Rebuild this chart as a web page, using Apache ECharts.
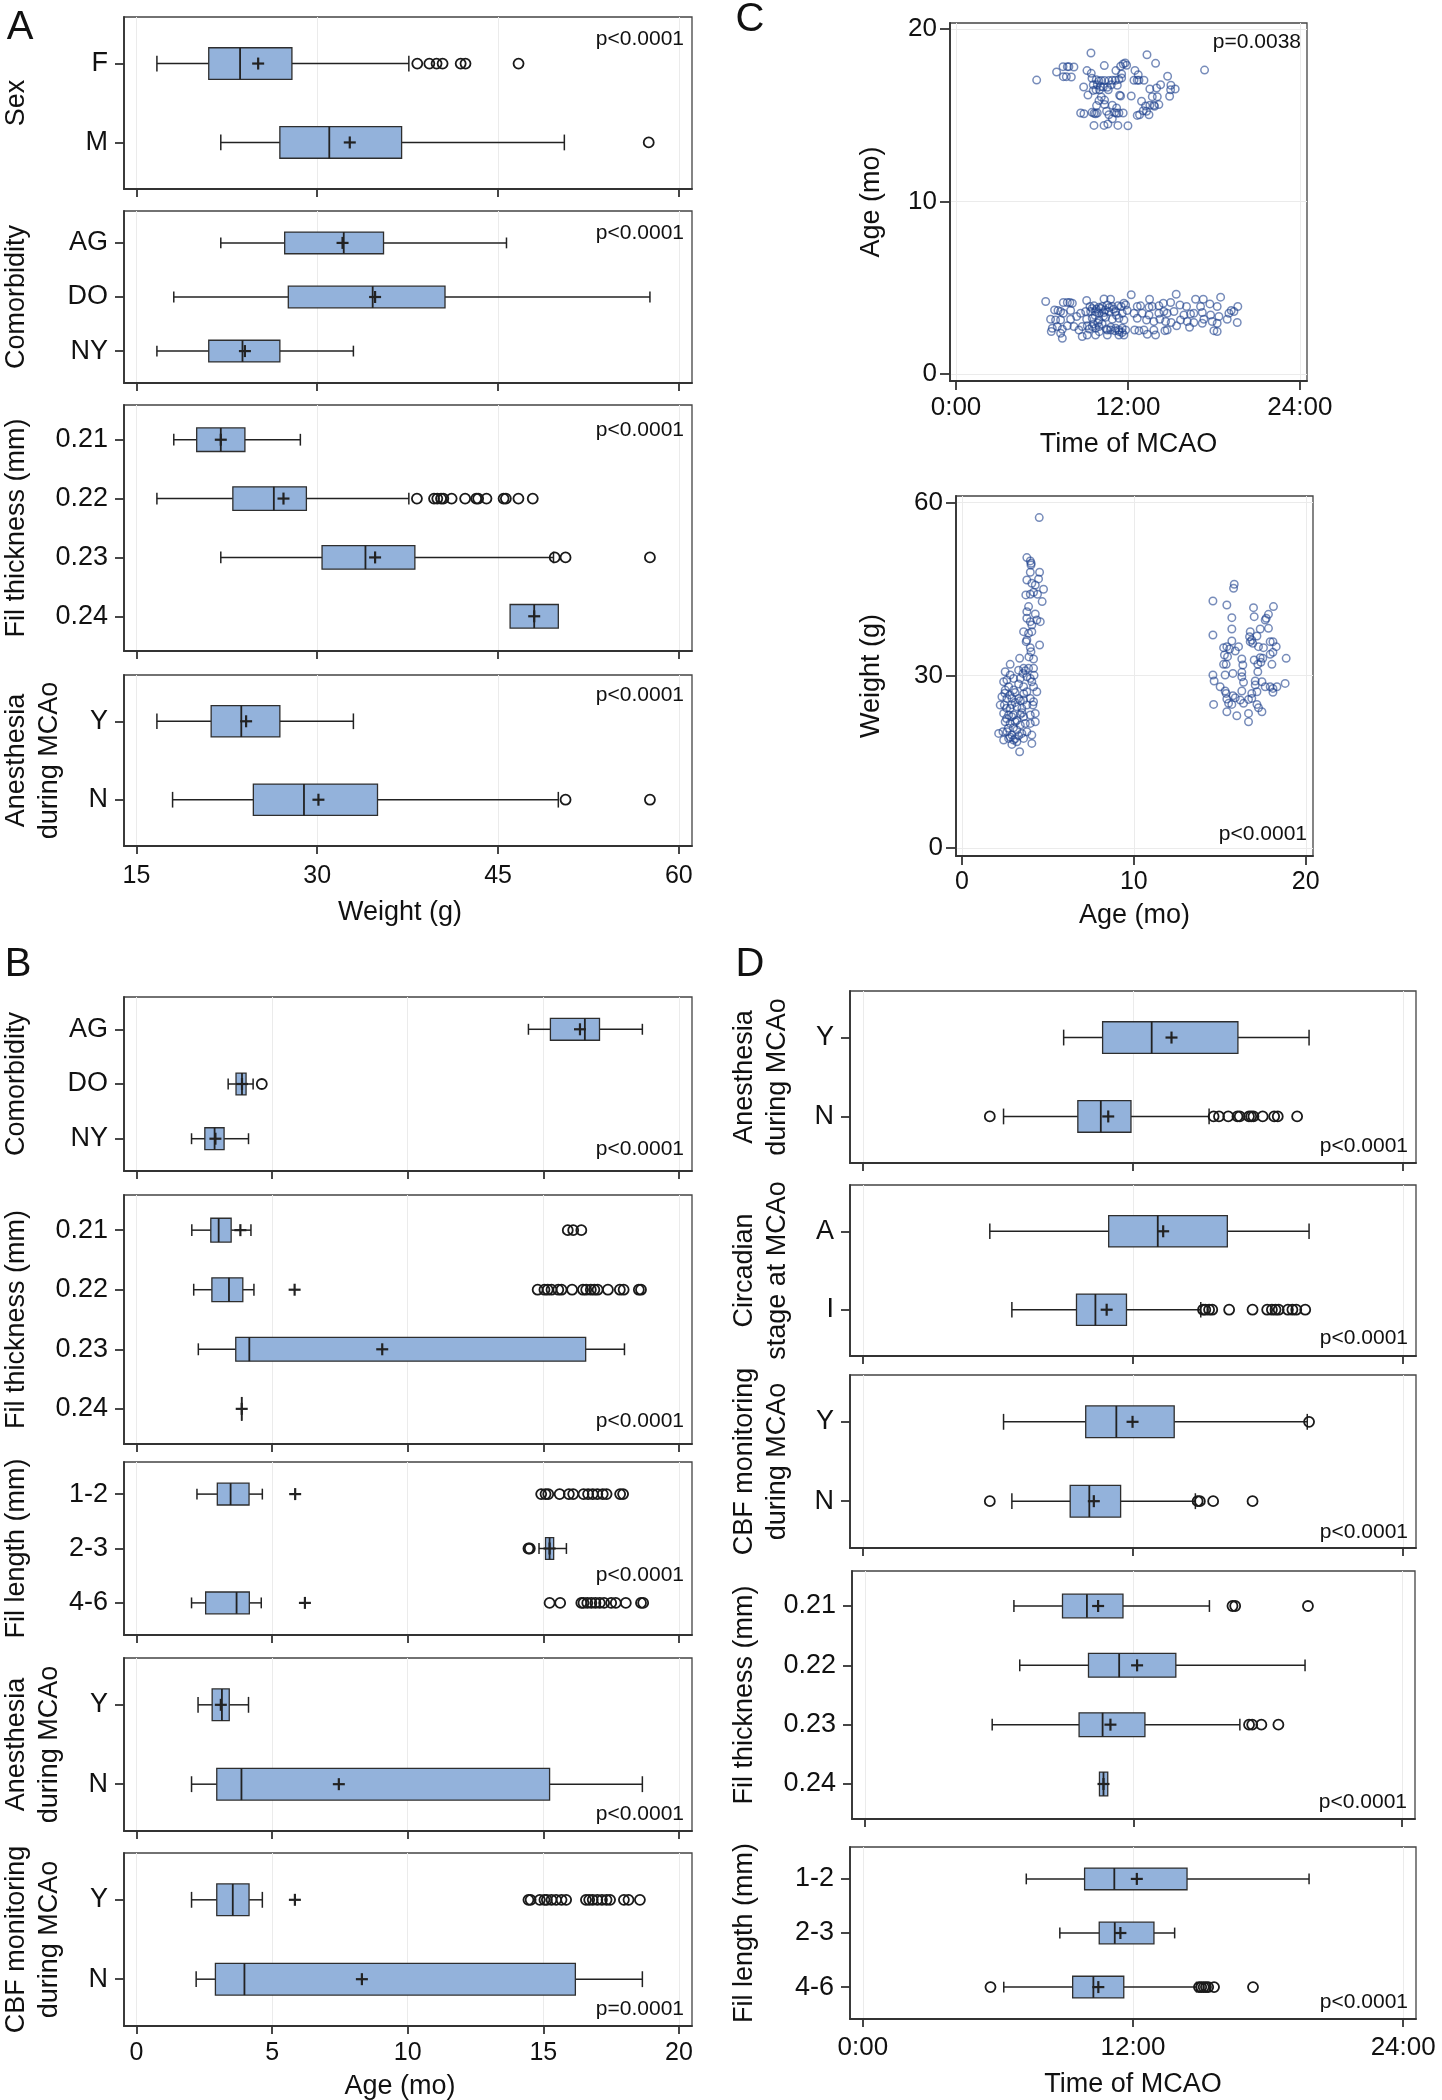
<!DOCTYPE html>
<html>
<head>
<meta charset="utf-8">
<script src="https://cdn.jsdelivr.net/npm/echarts@6/dist/echarts.min.js"></script>
<style>
  html, body { margin: 0; padding: 0; background: #fff; }
  #chart { width: 1442px; height: 2100px; }
</style>
</head>
<body>
<div id="chart"></div>
<script>
// ---- categories ----
const sexCats = ['F', 'M'];
const comorbCats = ['AG', 'DO', 'NY'];
const filThickCats = ['0.21', '0.22', '0.23', '0.24'];
const filLenCats = ['1-2', '2-3', '4-6'];
const ynCats = ['Y', 'N'];
const circCats = ['A', 'I'];

// ---- tick labels ----
const weightTicks = [15, 30, 45, 60];
const ageTicks = [0, 5, 10, 15, 20];
const timeTicks = [0, 12, 24];

// box rows: [low whisker, Q1, median, Q3, high whisker, mean]
// A: weight (g)
const weightBySex = [[16.7, 21.0, 23.6, 27.9, 37.6, 25.1], [22.0, 26.9, 31.0, 37.0, 50.5, 32.7]];
const weightBySexOut = [[38.3, 39.3, 39.9, 40.4, 41.9, 42.3, 46.7], [57.5]];
const weightByComorb = [[22.0, 27.3, 32.2, 35.5, 45.7, 32.1], [18.1, 27.6, 34.6, 40.6, 57.6, 34.8], [16.7, 21.0, 23.8, 26.9, 33.0, 24.0]];
const weightByComorbOut = [[], [], []];
const weightByThick = [[18.1, 20.0, 22.0, 24.0, 28.6, 22.0], [16.7, 23.0, 26.4, 29.1, 37.6, 27.2], [22.0, 30.4, 34.0, 38.1, 49.6, 34.8], [46.0, 46.0, 48.0, 50.0, 50.0, 48.0]];
const weightByThickOut = [[], [38.27, 39.69, 39.96, 40.27, 40.46, 41.15, 42.27, 43.19, 43.35, 44.04, 45.46, 45.65, 46.69, 47.88], [49.7, 50.6, 57.6], []];
const weightByAnest = [[16.7, 21.2, 23.7, 26.9, 33.0, 24.1], [18.0, 24.7, 28.9, 35.0, 50.0, 30.1]];
const weightByAnestOut = [[], [50.6, 57.6]];

// B: age (mo)
const ageByComorb = [[14.45, 15.26, 16.53, 17.07, 18.65, 16.35], [3.38, 3.67, 3.89, 4.04, 4.3, 3.89], [2.03, 2.52, 2.88, 3.23, 4.13, 2.91]];
const ageByComorbOut = [[], [4.62], []];
const ageByThick = [[2.04, 2.74, 3.03, 3.49, 4.22, 3.83], [2.11, 2.78, 3.41, 3.92, 4.33, 5.83], [2.28, 3.66, 4.16, 16.56, 17.99, 9.06], [3.88, 3.88, 3.88, 3.88, 3.88, 3.88]];
const ageByThickOut = [[15.9, 16.1, 16.4], [14.79, 15.04, 15.16, 15.30, 15.55, 15.67, 16.06, 16.46, 16.58, 16.75, 16.88, 17.0, 17.38, 17.82, 17.96, 18.52, 18.6], [], []];
const ageByLen = [[2.23, 2.98, 3.47, 4.15, 4.64, 5.85], [14.84, 15.08, 15.23, 15.38, 15.85, 15.23], [2.03, 2.55, 3.69, 4.16, 4.6, 6.21]];
const ageByLenOut = [[14.92, 15.08, 15.18, 15.6, 15.94, 16.1, 16.48, 16.65, 16.82, 16.99, 17.19, 17.33, 17.83, 17.94], [14.45, 14.5], [15.23, 15.62, 16.4, 16.48, 16.62, 16.77, 16.92, 17.08, 17.24, 17.5, 17.67, 18.04, 18.6, 18.68]];
const ageByAnest = [[2.27, 2.79, 3.15, 3.42, 4.13, 3.11], [2.03, 2.96, 3.87, 15.23, 18.65, 7.46]];
const ageByAnestOut = [[], []];
const ageByCbf = [[2.03, 2.96, 3.55, 4.15, 4.64, 5.84], [2.2, 2.91, 3.98, 16.18, 18.65, 8.31]];
const ageByCbfOut = [[14.45, 14.53, 14.87, 15.04, 15.13, 15.3, 15.47, 15.67, 15.84, 16.57, 16.69, 16.82, 16.99, 17.16, 17.33, 17.46, 17.97, 18.14, 18.56], []];

// D: time of MCAO (hours)
const timeByAnest = [[8.92, 10.65, 12.83, 16.66, 19.82, 13.71], [6.25, 9.55, 10.57, 11.91, 15.38, 10.9]];
const timeByAnestOut = [[], [5.64, 15.58, 15.82, 16.23, 16.64, 16.74, 17.15, 17.25, 17.35, 17.76, 18.27, 18.43, 19.29]];
const timeByCirc = [[5.64, 10.92, 13.1, 16.19, 19.82, 13.34], [6.62, 9.49, 10.33, 11.71, 15.01, 10.83]];
const timeByCircOut = [[], [15.11, 15.21, 15.38, 15.52, 16.27, 17.31, 17.96, 18.17, 18.33, 18.47, 18.88, 19.08, 19.25, 19.65]];
const timeByCbf = [[6.25, 9.9, 11.26, 13.83, 19.74, 11.98], [6.62, 9.21, 10.06, 11.45, 14.77, 10.26]];
const timeByCbfOut = [[19.82], [5.64, 14.87, 14.97, 15.56, 17.31]];
const timeByThick = [[6.66, 8.83, 9.92, 11.53, 15.39, 10.42], [6.92, 9.99, 11.36, 13.89, 19.66, 12.16], [5.69, 9.57, 10.62, 12.51, 16.75, 10.97], [10.48, 10.48, 10.66, 10.85, 10.85, 10.66]];
const timeByThickOut = [[16.42, 16.54, 19.79], [], [17.16, 17.3, 17.71, 18.47], []];
const timeByLen = [[7.26, 9.85, 11.17, 14.4, 19.82, 12.17], [8.75, 10.5, 11.19, 12.93, 13.85, 11.44], [6.26, 9.32, 10.24, 11.59, 14.82, 10.46]];
const timeByLenOut = [[], [], [5.67, 14.93, 15.03, 15.14, 15.24, 15.34, 15.6, 17.33]];

// C top: [time of MCAO (h), age (mo)]
const timeAgeAged = [
  [5.63,17.04],[7.02,17.51],[7.47,17.82],[7.77,17.82],[7.88,17.82],[8.23,17.80],[7.49,17.24],[7.70,17.24],[8.05,17.22],
  [9.42,18.61],[9.14,17.59],[9.44,17.43],[10.35,17.88],[9.49,17.14],[9.79,17.06],[9.98,16.99],[10.14,17.01],[10.37,17.01],
  [10.67,17.01],[10.91,17.03],[11.12,17.03],[11.37,17.08],[11.56,17.16],[8.91,16.64],[9.58,16.77],[9.86,16.77],[10.09,16.66],
  [10.28,16.64],[10.56,16.62],[10.84,16.77],[11.26,16.74],[9.21,16.17],[9.58,16.44],[9.77,16.48],[10.02,16.48],[10.63,16.48],
  [11.16,17.59],[11.49,17.84],[11.67,17.97],[11.81,18.03],[11.91,17.90],[11.56,17.39],[13.33,18.51],[13.93,18.01],[12.49,17.60],
  [12.72,17.35],[12.42,17.03],[12.65,17.03],[12.77,17.03],[13.12,17.03],[14.77,17.26],[14.28,16.77],[14.0,16.58],[13.53,16.52],
  [15.0,16.74],[15.3,16.52],[14.98,16.48],[17.35,17.62],[11.42,16.16],[11.49,16.12],[12.23,16.12],[13.70,16.08],[14.05,16.08],
  [14.91,16.10],[10.14,16.06],[10.37,15.88],[9.98,15.85],[12.95,15.81],[13.23,15.54],[13.53,15.58],[13.81,15.58],[14.16,15.62],
  [13.86,15.52],[9.81,15.56],[10.37,15.62],[10.91,15.58],[11.21,15.42],[8.70,15.13],[8.93,15.09],[9.49,15.17],[9.63,15.11],
  [9.74,15.09],[9.86,15.13],[10.51,15.23],[10.67,15.03],[11.07,15.15],[11.21,15.11],[11.37,15.13],[11.67,15.13],[12.65,14.99],
  [12.81,15.03],[13.07,15.26],[13.30,15.23],[13.47,15.03],[9.63,14.41],[10.33,14.41],[10.60,14.49],[11.30,14.41],[12.0,14.39],
  [10.91,14.80]
];
const timeAgeYoung = [
  [6.26,4.20],[7.49,4.14],[7.77,4.14],[7.95,4.14],[8.12,4.10],[12.23,4.59],[13.51,4.33],[15.37,4.62],[16.72,4.33],[17.26,4.33],
  [18.47,4.45],[19.67,3.91],[9.12,4.26],[10.33,4.35],[10.79,4.33],[9.35,3.91],[9.63,3.95],[9.98,3.87],[10.21,3.91],[10.56,4.00],
  [10.91,3.91],[11.30,3.95],[11.72,4.10],[11.84,4.00],[11.53,3.91],[12.65,3.91],[12.88,3.95],[13.47,3.87],[13.70,3.91],[14.16,3.95],
  [14.47,4.10],[14.98,4.14],[15.63,4.00],[16.09,3.91],[17.07,3.91],[17.72,4.06],[18.23,3.91],[19.21,3.68],[19.40,3.62],[6.88,3.71],
  [7.12,3.68],[7.30,3.62],[8.0,3.68],[7.49,3.52],[8.70,3.52],[9.05,3.62],[9.40,3.62],[9.74,3.62],[9.98,3.52],[10.33,3.56],
  [10.67,3.62],[11.14,3.62],[11.60,3.52],[11.95,3.68],[12.42,3.52],[13.0,3.52],[13.47,3.42],[14.16,3.52],[14.51,3.62],[14.74,3.52],
  [15.21,3.62],[15.91,3.42],[16.37,3.48],[16.60,3.52],[17.19,3.56],[17.77,3.42],[18.35,3.33],[19.05,3.52],[6.60,3.17],[6.95,3.13],
  [7.30,3.13],[8.0,3.17],[8.42,3.33],[9.12,3.17],[9.51,3.23],[9.98,3.13],[10.44,3.29],[10.91,3.17],[11.37,3.23],[11.72,3.13],
  [12.65,3.23],[13.30,3.13],[13.81,3.04],[14.23,3.17],[14.63,3.04],[15.02,2.98],[15.67,3.13],[16.14,3.04],[16.60,2.98],[17.30,3.17],
  [17.88,3.04],[18.23,2.94],[18.93,3.17],[19.63,2.98],[6.72,2.65],[7.07,2.75],[7.42,2.59],[7.77,2.79],[8.23,2.75],[8.81,2.75],
  [9.16,2.79],[9.51,2.75],[9.74,2.65],[9.98,2.75],[10.56,2.55],[10.79,2.55],[11.14,2.65],[11.37,2.55],[11.60,2.65],[11.84,2.55],
  [12.47,2.55],[12.77,2.51],[13.12,2.55],[13.81,2.55],[14.58,2.51],[14.74,2.55],[15.40,2.79],[16.30,2.71],[17.19,2.94],[18.0,2.51],
  [18.23,2.46],[6.65,2.46],[7.30,2.36],[7.42,2.07],[8.81,2.17],[9.16,2.26],[9.74,2.26],[10.56,2.26],[11.37,2.26],[11.72,2.26],
  [13.35,2.30],[13.93,2.26],[8.58,2.55],[9.5,3.8],[9.8,3.75],[10.1,3.8],[10.4,3.7],[10.7,3.85],[11.0,3.75],[9.6,2.9],[9.9,2.95],
  [10.2,2.9],[10.5,2.6],[10.8,2.7],[11.1,2.5],[11.4,2.45],[11.6,2.4],[9.3,2.6],[10.0,2.45],[9.7,3.4],[10.3,3.35],[11.2,3.4]
];

// C bottom: [age (mo), weight (g)]
const ageWeightYoung = [
  [4.50,57.41],[3.78,50.46],[3.98,49.88],[4.03,49.47],[4.02,49.18],[3.98,47.91],[4.52,47.91],[3.78,46.57],[4.07,45.99],[4.46,46.75],
  [4.75,44.95],[4.27,45.70],[3.72,43.97],[3.98,44.08],[4.17,44.43],[4.40,44.08],[4.67,42.81],[3.88,41.94],[3.78,41.07],[4.27,40.66],
  [4.36,39.62],[4.56,39.33],[3.78,39.91],[3.98,39.33],[4.07,38.75],[3.59,37.59],[3.88,37.30],[4.07,37.59],[3.78,36.14],[3.74,35.85],
  [4.52,35.27],[3.98,34.81],[4.02,34.11],[4.17,32.83],[3.36,32.95],[2.81,31.91],[3.59,31.21],[3.88,31.21],[4.17,31.21],[3.55,30.34],
  [2.52,30.63],[2.81,30.05],[3.01,29.47],[2.62,29.18],[2.43,28.89],[3.40,29.47],[3.78,29.76],[3.98,29.47],[4.07,28.89],[2.72,28.02],
  [2.52,27.44],[3.01,27.44],[3.59,28.02],[3.78,27.15],[4.17,28.02],[4.36,27.15],[2.33,26.28],[2.62,25.99],[2.91,25.99],[3.30,25.99],
  [3.59,25.70],[3.98,25.99],[4.17,25.41],[2.23,24.83],[2.47,24.83],[2.81,24.26],[3.20,24.54],[3.49,24.26],[3.78,24.83],[4.13,24.83],
  [2.43,23.39],[2.72,23.10],[3.01,23.10],[3.40,23.21],[3.59,22.81],[3.98,23.10],[4.27,23.39],[2.52,21.94],[2.81,21.65],[3.10,21.94],
  [3.40,21.36],[3.69,21.65],[3.98,21.65],[4.27,21.94],[2.14,19.91],[2.39,20.20],[2.62,20.20],[2.91,19.62],[3.20,20.49],[3.49,19.91],
  [3.78,20.20],[4.07,19.62],[2.43,18.75],[2.72,19.04],[3.01,18.75],[3.20,18.46],[3.59,19.04],[4.07,18.17],[2.91,18.0],[3.36,16.72],
  [2.6,22.5],[2.9,22.8],[3.2,22.2],[3.5,23.5],[2.7,20.8],[3.0,20.9],[3.3,19.5],[2.5,26.9],[2.8,26.6],[3.1,27.0],[3.3,28.5],
  [3.6,26.8],[2.9,24.9],[3.1,25.3],[3.4,25.6],[2.6,24.3],[3.7,30.8],[3.3,30.9],[3.9,33.2],[4.2,30.0],[2.8,19.3],[3.1,19.0]
];
const ageWeightAged = [
  [15.84,45.82],[15.80,45.13],[14.60,42.92],[15.41,42.23],[16.96,41.76],[18.12,41.94],[15.70,40.02],[17.0,40.20],[17.83,40.60],
  [17.70,39.91],[17.64,39.62],[15.70,38.05],[16.77,37.59],[17.35,38.05],[17.83,38.17],[14.60,37.01],[16.73,36.72],[17.16,36.83],
  [15.70,35.97],[16.86,36.14],[15.22,34.81],[15.41,34.98],[15.57,34.57],[15.90,34.23],[16.09,34.98],[16.77,35.85],[16.92,35.56],
  [17.25,34.98],[17.54,34.81],[17.93,35.85],[18.09,35.85],[18.28,34.98],[15.27,33.53],[15.45,33.24],[16.28,32.83],[17.0,32.66],
  [17.35,33.07],[17.50,32.95],[17.93,33.65],[18.09,33.99],[18.86,32.95],[15.22,31.91],[15.37,31.91],[16.34,31.79],[17.21,31.91],
  [17.39,32.26],[18.03,31.91],[14.60,30.05],[15.31,30.05],[15.76,30.34],[16.28,30.52],[17.21,30.63],[14.67,29.01],[16.28,29.76],
  [16.38,28.78],[17.06,29.01],[17.45,28.89],[17.93,28.02],[18.09,27.73],[18.32,28.02],[18.80,28.60],[15.02,28.02],[17.06,28.31],
  [17.16,27.15],[17.64,28.02],[15.31,27.27],[15.37,26.86],[15.76,26.46],[16.28,27.27],[16.86,26.86],[15.41,25.88],[15.90,26.11],
  [16.19,25.70],[16.67,25.82],[16.86,25.99],[14.64,24.95],[15.51,25.13],[15.70,24.95],[16.38,25.13],[17.16,24.95],[17.25,24.37],
  [18.09,27.04],[15.41,23.67],[15.99,22.98],[16.67,23.39],[17.45,23.67],[16.67,21.94]
];

const FONT = "'Liberation Sans', Arial, Helvetica, sans-serif";
const INK = '#111';
const BOX_FILL = '#93b2db';

// axis ranges (SAS pads the frame a little past the end ticks)
const xKinds = {
  weight: { min: 13.97, max: 61.09, ticks: weightTicks, fmt: v => String(v), title: 'Weight (g)', margin: 18, gap: 50, size: 25 },
  age: { min: -0.46, max: 20.48, ticks: ageTicks, fmt: v => String(v), title: 'Age (mo)', margin: 15, gap: 44, size: 25 },
  time: { min: -0.57, max: 24.57, ticks: timeTicks, fmt: v => v + ':00', title: 'Time of MCAO', margin: 16, gap: 49, size: 26 }
};

// frame: [left, top, right, bottom]; pAt: where the p label sits
const boxPanels = [
  { frame: [124, 17, 692, 189], x: 'weight', title: 'Sex', cats: sexCats, box: weightBySex, out: weightBySexOut, p: 'p<0.0001', pAt: ['top', 22] },
  { frame: [124, 211, 692, 383], x: 'weight', title: 'Comorbidity', cats: comorbCats, box: weightByComorb, out: weightByComorbOut, p: 'p<0.0001', pAt: ['top', 22] },
  { frame: [124, 405, 692, 651], x: 'weight', title: 'Fil thickness (mm)', cats: filThickCats, box: weightByThick, out: weightByThickOut, p: 'p<0.0001', pAt: ['top', 25] },
  { frame: [124, 675, 692, 846], x: 'weight', title: 'Anesthesia\nduring MCAo', cats: ynCats, box: weightByAnest, out: weightByAnestOut, p: 'p<0.0001', pAt: ['top', 20], bottom: true },

  { frame: [124, 997, 692, 1171], x: 'age', title: 'Comorbidity', cats: comorbCats, box: ageByComorb, out: ageByComorbOut, p: 'p<0.0001', pAt: ['bottom', 22] },
  { frame: [124, 1195, 692, 1444], x: 'age', title: 'Fil thickness (mm)', cats: filThickCats, box: ageByThick, out: ageByThickOut, p: 'p<0.0001', pAt: ['bottom', 23] },
  { frame: [124, 1462, 692, 1635], x: 'age', title: 'Fil length (mm)', cats: filLenCats, box: ageByLen, out: ageByLenOut, p: 'p<0.0001', pAt: ['bottom', 60] },
  { frame: [124, 1658, 692, 1831], x: 'age', title: 'Anesthesia\nduring MCAo', cats: ynCats, box: ageByAnest, out: ageByAnestOut, p: 'p<0.0001', pAt: ['bottom', 17] },
  { frame: [124, 1853, 692, 2026], x: 'age', title: 'CBF monitoring\nduring MCAo', cats: ynCats, box: ageByCbf, out: ageByCbfOut, p: 'p=0.0001', pAt: ['bottom', 17], bottom: true },

  { frame: [850, 991, 1416, 1163], x: 'time', title: 'Anesthesia\nduring MCAo', cats: ynCats, box: timeByAnest, out: timeByAnestOut, p: 'p<0.0001', pAt: ['bottom', 17] },
  { frame: [850, 1185, 1416, 1356], x: 'time', title: 'Circadian\nstage at MCAo', cats: circCats, box: timeByCirc, out: timeByCircOut, p: 'p<0.0001', pAt: ['bottom', 18] },
  { frame: [850, 1375, 1416, 1548], x: 'time', title: 'CBF monitoring\nduring MCAo', cats: ynCats, box: timeByCbf, out: timeByCbfOut, p: 'p<0.0001', pAt: ['bottom', 16] },
  { frame: [852, 1571, 1415, 1819], x: 'time', title: 'Fil thickness (mm)', cats: filThickCats, box: timeByThick, out: timeByThickOut, p: 'p<0.0001', pAt: ['bottom', 17] },
  { frame: [850, 1847, 1416, 2019], x: 'time', title: 'Fil length (mm)', cats: filLenCats, box: timeByLen, out: timeByLenOut, p: 'p<0.0001', pAt: ['bottom', 17], bottom: true }
];

const axisLineStyle = { color: '#333', width: 1.8 };
const axisLine = { show: true, onZero: false, lineStyle: axisLineStyle };
const splitStyle = { color: '#ebebeb', width: 1 };
const labelStyle = (size) => ({ color: INK, fontSize: size, fontFamily: FONT });
const nameStyle = { color: INK, fontSize: 27, fontFamily: FONT, lineHeight: 33 };

function renderBox(params, api) {
  const cat = api.value(0);
  const lo = api.value(1), q1 = api.value(2), med = api.value(3), q3 = api.value(4), hi = api.value(5), mean = api.value(6);
  const pLo = api.coord([lo, cat]);
  const pQ1 = api.coord([q1, cat]);
  const pMed = api.coord([med, cat]);
  const pQ3 = api.coord([q3, cat]);
  const pHi = api.coord([hi, cat]);
  const pMean = api.coord([mean, cat]);
  const h = api.size([0, 0.4])[1];
  const y = pQ1[1];
  const seg = (x1, y1, x2, y2, w) => ({ type: 'line', shape: { x1, y1, x2, y2 }, style: { stroke: '#222', lineWidth: w } });
  const kids = [];
  if (lo < q1) {
    kids.push(seg(pLo[0], y, pQ1[0], y, 1.5));
    kids.push(seg(pLo[0], y - h / 4, pLo[0], y + h / 4, 1.5));
  }
  if (hi > q3) {
    kids.push(seg(pQ3[0], y, pHi[0], y, 1.5));
    kids.push(seg(pHi[0], y - h / 4, pHi[0], y + h / 4, 1.5));
  }
  kids.push({ type: 'rect', shape: { x: pQ1[0], y: y - h / 2, width: pQ3[0] - pQ1[0], height: h },
    style: { fill: BOX_FILL, stroke: '#2e2e2e', lineWidth: 1.3 } });
  kids.push(seg(pMed[0], y - h / 2, pMed[0], y + h / 2, 1.8));
  kids.push(seg(pMean[0] - 6, y, pMean[0] + 6, y, 2.2));
  kids.push(seg(pMean[0], y - 6, pMean[0], y + 6, 2.2));
  return { type: 'group', children: kids };
}

const grids = [], xAxis = [], yAxis = [], series = [], texts = [];

function gridOf(f) {
  return { left: f[0], top: f[1], width: f[2] - f[0], height: f[3] - f[1], show: true,
    borderColor: '#444', borderWidth: 1.3, backgroundColor: 'transparent', containLabel: false, outerBoundsMode: 'none' };
}

function pText(text, x, y) {
  texts.push({ type: 'text', x, y, z: 20, style: { text, fill: INK, fontSize: 21, fontFamily: FONT,
    align: 'right', verticalAlign: 'middle', textAlign: 'right', textVerticalAlign: 'middle' } });
}

boxPanels.forEach((pn, i) => {
  const f = pn.frame;
  const k = xKinds[pn.x];
  const n = pn.cats.length;
  const idx = pn.cats.map((c, j) => j);
  const lines = pn.title.split('\n').length;
  const x0 = f[0] > 700 ? 745 : 17;
  grids.push(gridOf(f));
  xAxis.push({
    gridIndex: i, type: 'value', min: k.min, max: k.max,
    axisLine: axisLine,
    axisTick: { show: true, length: 8, lineStyle: axisLineStyle, customValues: k.ticks },
    axisLabel: { show: !!pn.bottom, customValues: k.ticks, formatter: k.fmt, margin: k.margin, ...labelStyle(k.size) },
    splitLine: { show: true, lineStyle: splitStyle },
    name: pn.bottom ? k.title : '', nameLocation: 'middle', nameGap: k.gap,
    nameTextStyle: { ...nameStyle, padding: pn.x === 'time' ? 0 : [0, 16, 0, 0] }, nameMoveOverlap: false
  });
  yAxis.push({
    gridIndex: i, type: 'value', inverse: true, min: -0.59, max: n - 1 + 0.59,
    axisLine: axisLine,
    axisTick: { show: true, length: 9, lineStyle: axisLineStyle, customValues: idx },
    axisLabel: { customValues: idx, formatter: v => pn.cats[Math.round(v)], margin: 16, ...labelStyle(27) },
    splitLine: { show: false },
    name: pn.title, nameLocation: 'middle', nameRotate: 90,
    nameGap: f[0] - (x0 + (lines - 1) * 33 + 16.5), nameTextStyle: nameStyle, nameMoveOverlap: false
  });
  series.push({
    type: 'custom', xAxisIndex: i, yAxisIndex: i, renderItem: renderBox, z: 3,
    encode: { x: [1, 2, 3, 4, 5, 6], y: 0 },
    data: pn.box.map((r, j) => [j].concat(r))
  });
  const outs = [];
  pn.out.forEach((vals, j) => vals.forEach(v => outs.push([v, j])));
  series.push({
    type: 'scatter', xAxisIndex: i, yAxisIndex: i, z: 4, symbol: 'circle', symbolSize: 10,
    itemStyle: { color: 'rgba(0,0,0,0)', borderColor: '#1a1a1a', borderWidth: 1.8, opacity: 1 },
    data: outs
  });
  const py = pn.pAt[0] === 'top' ? f[1] + pn.pAt[1] : f[3] - pn.pAt[1];
  pText(pn.p, f[2] - 8, py);
});

// ---- C: scatter plots ----
const scatterPanels = [
  { frame: [950, 23, 1307, 381], xr: [-0.42, 24.5], xt: timeTicks, xf: v => v + ':00', xs: 26, xName: 'Time of MCAO', xGap: 47,
    yr: [-0.41, 20.35], yt: [0, 10, 20], yName: 'Age (mo)', yGap: 62, sets: [timeAgeAged, timeAgeYoung], p: 'p=0.0038', pAt: ['top', 19] },
  { frame: [956, 496, 1313, 856], xr: [-0.34, 20.42], xt: [0, 10, 20], xf: v => String(v), xs: 25, xName: 'Age (mo)', xGap: 43,
    yr: [-1.39, 61.16], yt: [0, 30, 60], yName: 'Weight (g)', yGap: 68, sets: [ageWeightYoung, ageWeightAged], p: 'p<0.0001', pAt: ['bottom', 22] }
];

scatterPanels.forEach(sp => {
  const i = grids.length;
  const f = sp.frame;
  grids.push(gridOf(f));
  xAxis.push({
    gridIndex: i, type: 'value', min: sp.xr[0], max: sp.xr[1],
    axisLine: axisLine,
    axisTick: { show: true, length: 9, lineStyle: axisLineStyle, customValues: sp.xt },
    axisLabel: { customValues: sp.xt, formatter: sp.xf, margin: 14, ...labelStyle(sp.xs) },
    splitLine: { show: true, lineStyle: splitStyle },
    name: sp.xName, nameLocation: 'middle', nameGap: sp.xGap, nameTextStyle: nameStyle, nameMoveOverlap: false
  });
  yAxis.push({
    gridIndex: i, type: 'value', min: sp.yr[0], max: sp.yr[1],
    axisLine: axisLine,
    axisTick: { show: true, length: 10, lineStyle: axisLineStyle, customValues: sp.yt },
    axisLabel: { customValues: sp.yt, margin: 13, ...labelStyle(26) },
    splitLine: { show: true, lineStyle: splitStyle },
    name: sp.yName, nameLocation: 'middle', nameRotate: 90, nameGap: sp.yGap, nameTextStyle: nameStyle, nameMoveOverlap: false
  });
  sp.sets.forEach(set => series.push({
    type: 'scatter', xAxisIndex: i, yAxisIndex: i, symbol: 'circle', symbolSize: 7.5, z: 3,
    itemStyle: { color: 'rgba(0,0,0,0)', borderColor: 'rgba(28,64,140,0.6)', borderWidth: 1.5, opacity: 1 },
    data: set
  }));
  const py = sp.pAt[0] === 'top' ? f[1] + sp.pAt[1] : f[3] - sp.pAt[1];
  pText(sp.p, f[2] - 6, py);
});

// panel letters
[['A', 20, 28], ['B', 18, 965], ['C', 750, 20], ['D', 750, 965]].forEach(l => {
  texts.push({ type: 'text', x: l[1], y: l[2], style: { text: l[0], fill: INK, fontSize: 40, fontFamily: FONT,
    align: 'center', verticalAlign: 'middle', textAlign: 'center', textVerticalAlign: 'middle' } });
});

const chart = echarts.init(document.getElementById('chart'), null, { renderer: 'canvas' });
chart.setOption({
  backgroundColor: '#fff',
  animation: false,
  textStyle: { fontFamily: FONT },
  grid: grids,
  xAxis: xAxis,
  yAxis: yAxis,
  series: series,
  graphic: { elements: texts }
});
</script>
</body>
</html>
